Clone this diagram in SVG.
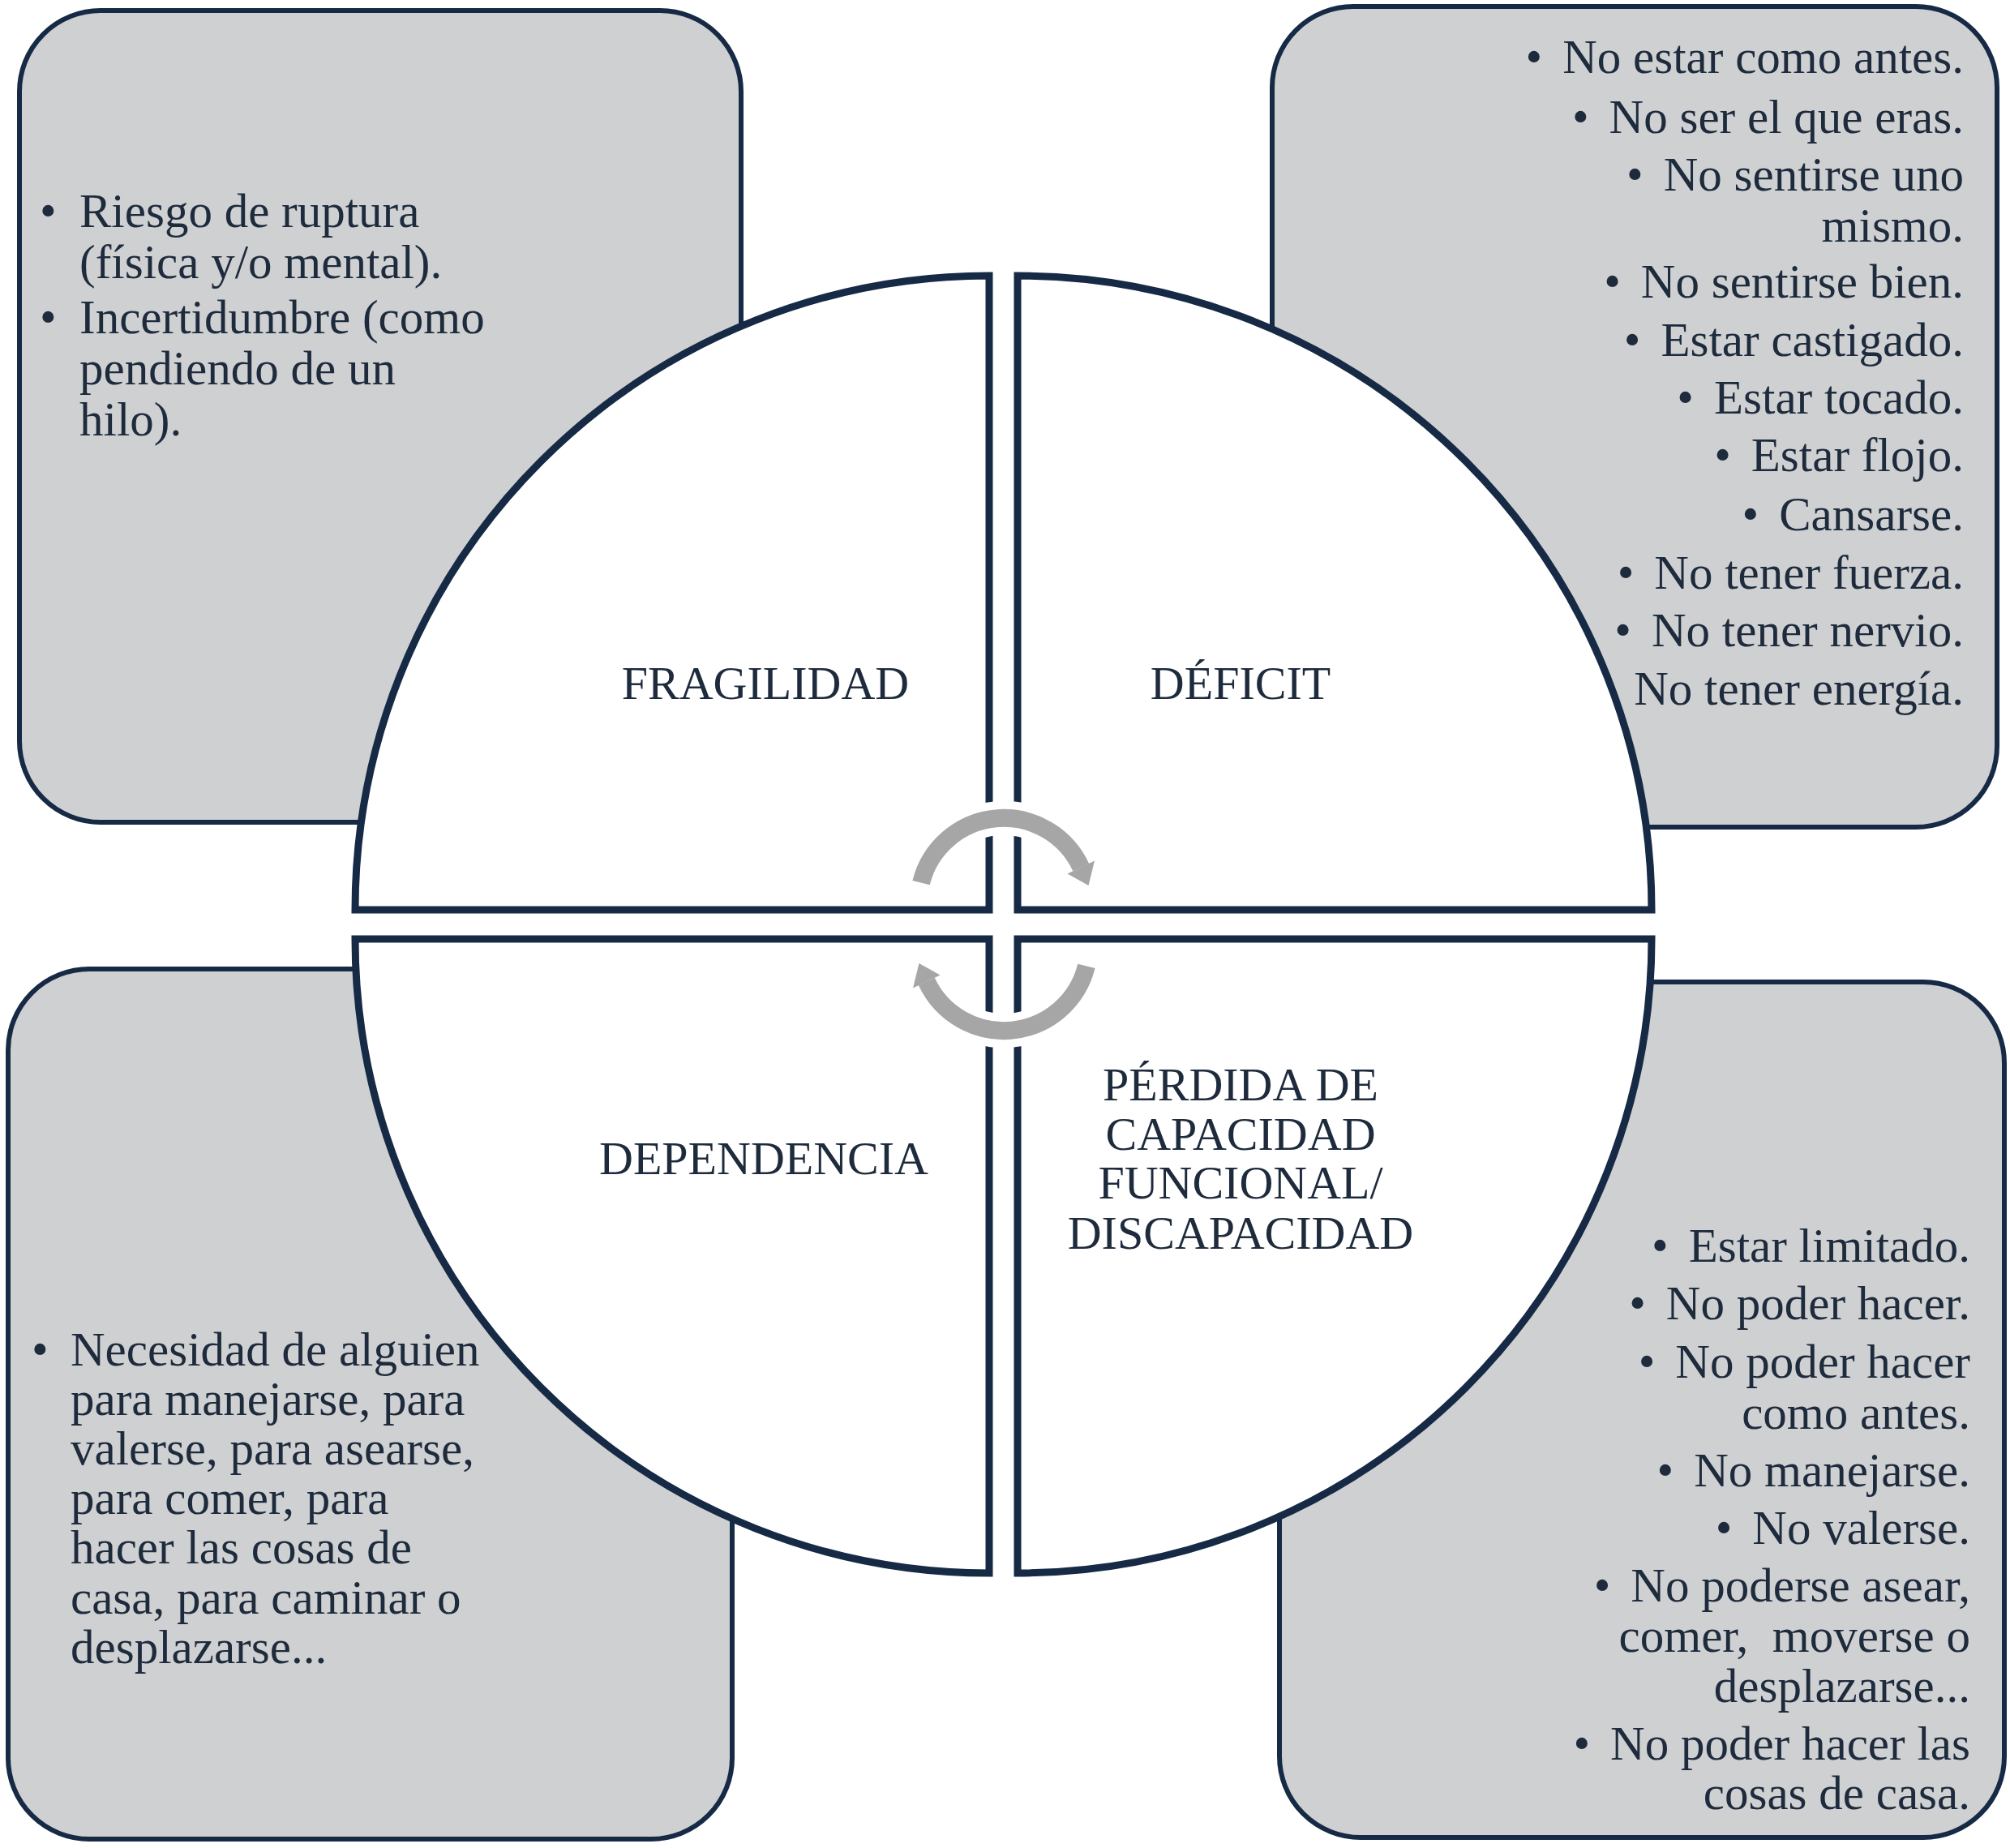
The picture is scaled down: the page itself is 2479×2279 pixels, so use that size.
<svg xmlns="http://www.w3.org/2000/svg" width="2479" height="2279" viewBox="0 0 2479 2279">
<style>
.box{fill:#cfd0d2;stroke:#172a45;stroke-width:6}
.q{fill:#ffffff;stroke:#172a45;stroke-width:9;stroke-linejoin:miter}
.t{font-family:"Liberation Serif","Times New Roman",serif;font-size:59px;fill:#1e2b3c}
.r{text-anchor:end}
.lbl{font-family:"Liberation Serif","Times New Roman",serif;font-size:58px;fill:#1e2b3c;text-anchor:middle}
.halo{fill:none;stroke:#ffffff;stroke-width:42}
.haloh{fill:#ffffff;stroke:#ffffff;stroke-width:20;stroke-linejoin:round}
.arc{fill:none;stroke:#a6a6a6;stroke-width:22}
.head{fill:#a6a6a6}
</style>
<rect width="2479" height="2279" fill="#ffffff"/>
<g id="box-fragilidad"><rect class="box" x="24" y="13" width="890" height="1001" rx="100"/></g>
<g id="box-deficit"><rect class="box" x="1569" y="8" width="894" height="1012" rx="100"/></g>
<g id="box-dependencia"><rect class="box" x="10" y="1195" width="893" height="1073" rx="100"/></g>
<g id="box-perdida"><rect class="box" x="1578" y="1211" width="894" height="1055" rx="100"/></g>
<g id="q-fragilidad"><path class="q" d="M1220,1122 L438,1122 A782,782 0 0 1 1220,340 Z"/></g>
<g id="q-deficit"><path class="q" d="M1255,1122 L1255,340 A782,782 0 0 1 2037,1122 Z"/></g>
<g id="q-perdida"><path class="q" d="M1255,1158 L2037,1158 A782,782 0 0 1 1255,1940 Z"/></g>
<g id="q-dependencia"><path class="q" d="M1220,1158 L1220,1940 A782,782 0 0 1 438,1158 Z"/></g>
<g id="connectors">
<g id="arrow-top">
<path class="halo" d="M1136.1,1088.6 A105,105 0 0 1 1333.2,1069.6"/>
<polygon class="haloh" points="1350,1061.5 1316.4,1077.5 1342.5,1092"/>
<path class="arc" d="M1136.1,1088.6 A105,105 0 0 1 1333.2,1069.6"/>
<polygon class="head" points="1350,1061.5 1316.4,1077.5 1342.5,1092"/>
</g>
<g id="arrow-bottom" transform="rotate(180 1238 1140)">
<path class="halo" d="M1136.1,1088.6 A105,105 0 0 1 1333.2,1069.6"/>
<polygon class="haloh" points="1350,1061.5 1316.4,1077.5 1342.5,1092"/>
<path class="arc" d="M1136.1,1088.6 A105,105 0 0 1 1333.2,1069.6"/>
<polygon class="head" points="1350,1061.5 1316.4,1077.5 1342.5,1092"/>
</g>
</g>
<g id="labels">
<text class="lbl" x="944" y="862">FRAGILIDAD</text>
<text class="lbl" x="1530" y="862">DÉFICIT</text>
<text class="lbl" x="942" y="1448">DEPENDENCIA</text>
<text class="lbl" x="1530" y="1357">PÉRDIDA DE</text>
<text class="lbl" x="1530" y="1418">CAPACIDAD</text>
<text class="lbl" x="1530" y="1478">FUNCIONAL/</text>
<text class="lbl" x="1530" y="1540">DISCAPACIDAD</text>
</g>
<g id="text-fragilidad" class="t">
<text x="49" y="280">•</text>
<text x="98" y="280">Riesgo de ruptura</text>
<text x="98" y="343">(física y/o mental).</text>
<text x="49" y="411">•</text>
<text x="98" y="411">Incertidumbre (como</text>
<text x="98" y="474">pendiendo de un</text>
<text x="98" y="537">hilo).</text>
</g>
<g id="text-deficit" class="t r">
<text x="2422" y="90">•<tspan dx="25">No estar como antes.</tspan></text>
<text x="2422" y="164">•<tspan dx="25">No ser el que eras.</tspan></text>
<text x="2422" y="235">•<tspan dx="25">No sentirse uno</tspan></text>
<text x="2422" y="298">mismo.</text>
<text x="2422" y="367">•<tspan dx="25">No sentirse bien.</tspan></text>
<text x="2422" y="439">•<tspan dx="25">Estar castigado.</tspan></text>
<text x="2422" y="510">•<tspan dx="25">Estar tocado.</tspan></text>
<text x="2422" y="581">•<tspan dx="25">Estar flojo.</tspan></text>
<text x="2422" y="654">•<tspan dx="25">Cansarse.</tspan></text>
<text x="2422" y="726">•<tspan dx="25">No tener fuerza.</tspan></text>
<text x="2422" y="797">•<tspan dx="25">No tener nervio.</tspan></text>
<text x="2422" y="869">No tener energía.</text>
</g>
<g id="text-dependencia" class="t">
<text x="39" y="1684">•</text>
<text x="87" y="1684">Necesidad de alguien</text>
<text x="87" y="1745">para manejarse, para</text>
<text x="87" y="1806">valerse, para asearse,</text>
<text x="87" y="1867">para comer, para</text>
<text x="87" y="1928">hacer las cosas de</text>
<text x="87" y="1990">casa, para caminar o</text>
<text x="87" y="2051">desplazarse...</text>
</g>
<g id="text-perdida" class="t r">
<text x="2430" y="1556">•<tspan dx="25">Estar limitado.</tspan></text>
<text x="2430" y="1627">•<tspan dx="25">No poder hacer.</tspan></text>
<text x="2430" y="1699">•<tspan dx="25">No poder hacer</tspan></text>
<text x="2430" y="1762">como antes.</text>
<text x="2430" y="1833">•<tspan dx="25">No manejarse.</tspan></text>
<text x="2430" y="1904">•<tspan dx="25">No valerse.</tspan></text>
<text x="2430" y="1975">•<tspan dx="25">No poderse asear,</tspan></text>
<text x="2430" y="2037" xml:space="preserve">comer,  moverse o</text>
<text x="2430" y="2099">desplazarse...</text>
<text x="2430" y="2170">•<tspan dx="25">No poder hacer las</tspan></text>
<text x="2430" y="2231">cosas de casa.</text>
</g>
</svg>
